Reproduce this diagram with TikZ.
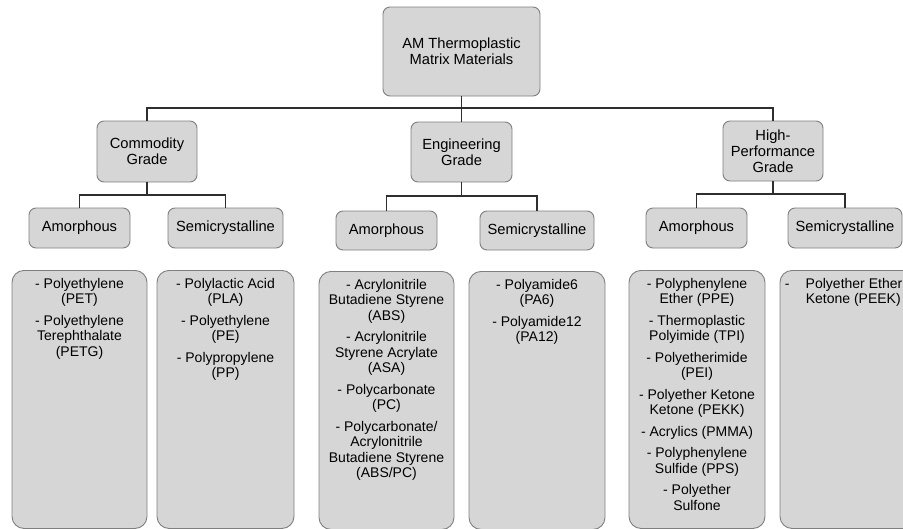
\documentclass[tikz,border=0pt]{standalone}
\usepackage{fontspec}
\setmainfont{Liberation Sans}
\usetikzlibrary{positioning}
\definecolor{boxfill}{HTML}{D6D6D6}
\definecolor{boxline}{HTML}{7F7F7F}
\definecolor{wirecol}{HTML}{2E2E2E}
\tikzset{
  catbox/.style={draw=boxline, fill=boxfill, line width=0.9pt, rounded corners=7pt,
    align=center, inner sep=0pt, font=\fontsize{14.7}{16}\selectfont},
  listbox/.style={draw=boxline, fill=boxfill, line width=0.9pt, rounded corners=12pt,
    anchor=north, inner sep=0pt, minimum height=258pt},
  listtext/.style={align=center, inner sep=0pt, font=\fontsize{14}{15.5}\selectfont},
  wire/.style={draw=wirecol, line width=1.2pt},
}
\begin{document}
\begin{tikzpicture}[x=1pt,y=-1pt]
  \useasboundingbox (0,0) rectangle (903,528);
  \clip (0,0) rectangle (903,528);
  % top level
  \node[catbox, minimum width=157pt, minimum height=89pt] (root) at (461.5,51.5)
    {AM Thermoplastic\\Matrix Materials};
  % grades
  \node[catbox, minimum width=100pt, minimum height=61pt] (com) at (147,151.5) {Commodity\\Grade};
  \node[catbox, minimum width=101pt, minimum height=60pt] (eng) at (461.5,152) {Engineering\\Grade};
  \node[catbox, minimum width=100pt, minimum height=60pt] (hp) at (773,151) {High-\\Performance\\Grade};
  % structure
  \node[catbox, minimum width=101pt, minimum height=40pt] (comamo) at (79.5,228) {Amorphous};
  \node[catbox, minimum width=115pt, minimum height=40pt] (comsemi) at (225.5,228) {Semicrystalline};
  \node[catbox, minimum width=101pt, minimum height=39pt] (engamo) at (386.5,230.5) {Amorphous};
  \node[catbox, minimum width=114pt, minimum height=39pt] (engsemi) at (537,230.5) {Semicrystalline};
  \node[catbox, minimum width=101pt, minimum height=40pt] (hpamo) at (696.5,228) {Amorphous};
  \node[catbox, minimum width=114pt, minimum height=40pt] (hpsemi) at (845,228) {Semicrystalline};
  % connectors
  \coordinate (bus) at (461.5,108);
  \coordinate (comfork) at (147,195);
  \coordinate (engfork) at (461.5,196);
  \coordinate (hpfork) at (773,194);
  \draw[wire] (root.south) -- (eng.north);
  \draw[wire] (com.north) |- (bus) -| (hp.north);
  \draw[wire] (com.south) -- (comfork);
  \draw[wire] (comamo.north) |- (comfork) -| (comsemi.north);
  \draw[wire] (eng.south) -- (engfork);
  \draw[wire] (engamo.north) |- (engfork) -| (engsemi.north);
  \draw[wire] (hp.south) -- (hpfork);
  \draw[wire] (hpamo.north) |- (hpfork) -| (hpsemi.north);
  % material lists
  \node[listbox, minimum width=135pt] (comamolist) at (79.5,270) {};
  \node[listbox, minimum width=137pt] (comsemilist) at (225.5,270) {};
  \node[listbox, minimum width=135pt] (engamolist) at (386.5,271) {};
  \node[listbox, minimum width=136pt] (engsemilist) at (537,271) {};
  \node[listbox, minimum width=136pt] (hpamolist) at (697,270) {};
  \node[listbox, minimum width=136pt] (hpsemilist) at (848,270) {};
  \node[listtext, below=8pt of comamolist.north] (comamotext)
    {- Polyethylene\\(PET)\\[6pt]- Polyethylene\\Terephthalate\\(PETG)};
  \node[listtext, below=8pt of comsemilist.north] (comsemitext)
    {- Polylactic Acid\\(PLA)\\[6pt]- Polyethylene\\(PE)\\[6pt]- Polypropylene\\(PP)};
  \node[listtext, below=8pt of engamolist.north] (engamotext)
    {- Acrylonitrile\\Butadiene Styrene\\(ABS)\\[6pt]- Acrylonitrile\\Styrene Acrylate\\(ASA)\\[6pt]%
     - Polycarbonate\\(PC)\\[6pt]- Polycarbonate/\\Acrylonitrile\\Butadiene Styrene\\(ABS/PC)};
  \node[listtext, below=8pt of engsemilist.north] (engsemitext)
    {- Polyamide6\\(PA6)\\[6pt]- Polyamide12\\(PA12)};
  \node[listtext, below=8pt of hpamolist.north] (hpamotext)
    {- Polyphenylene\\Ether (PPE)\\[6pt]- Thermoplastic\\Polyimide (TPI)\\[6pt]- Polyetherimide\\(PEI)\\[6pt]%
     - Polyether Ketone\\Ketone (PEKK)\\[6pt]- Acrylics (PMMA)\\[6pt]- Polyphenylene\\Sulfide (PPS)\\[6pt]%
     - Polyether\\Sulfone};
  \node[listtext, align=left, below right=8pt and 5pt of hpsemilist.north west] (hpsemitext)
    {\makebox[21pt][l]{-}Polyether Ether\\\hspace*{21pt}Ketone (PEEK)};
\end{tikzpicture}
\end{document}
